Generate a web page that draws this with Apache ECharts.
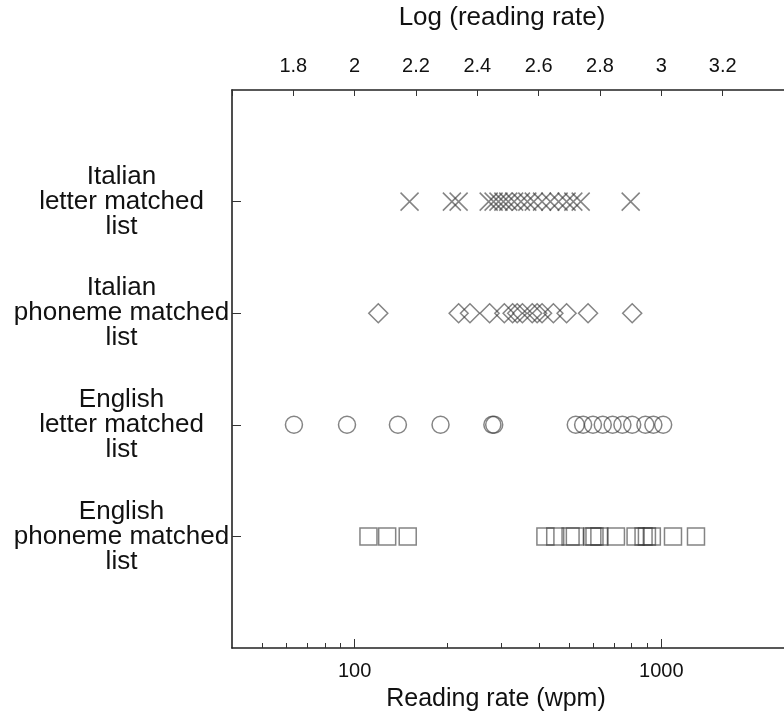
<!DOCTYPE html>
<html>
<head>
<meta charset="utf-8">
<script src="https://cdn.jsdelivr.net/npm/echarts@6/dist/echarts.min.js"></script>
<style>html,body{margin:0;padding:0;background:#fff;}#c{width:784px;height:718px;}</style>
</head>
<body>
<div id="c"></div>
<script>
// Row labels (top to bottom)
var categories = [
  'Italian\nletter matched\nlist',
  'Italian\nphoneme matched\nlist',
  'English\nletter matched\nlist',
  'English\nphoneme matched\nlist'
];
// Log10(reading rate) values
var italianLetter = [2.179, 2.317, 2.339, 2.437, 2.453, 2.469, 2.485, 2.501, 2.520, 2.542, 2.563, 2.584, 2.611, 2.638, 2.665, 2.691, 2.713, 2.737, 2.900];
var italianPhoneme = [2.077, 2.339, 2.376, 2.440, 2.488, 2.515, 2.530, 2.547, 2.579, 2.595, 2.611, 2.648, 2.691, 2.761, 2.905];
var englishLetter = [1.802, 1.975, 2.141, 2.280, 2.449, 2.455, 2.721, 2.745, 2.777, 2.809, 2.841, 2.873, 2.905, 2.948, 2.974, 3.006];
var englishPhoneme = [2.045, 2.106, 2.173, 2.622, 2.654, 2.704, 2.718, 2.775, 2.782, 2.798, 2.852, 2.916, 2.942, 2.953, 2.969, 3.038, 3.113];
// Axis ticks
var topTicks = [1.6, 1.8, 2, 2.2, 2.4, 2.6, 2.8, 3, 3.2, 3.4];
var bottomMajor = [100, 1000];
var bottomMinor = [50, 60, 70, 80, 90, 200, 300, 400, 500, 600, 700, 800, 900];

var logMin = 1.6, logMax = 3.4;
var stroke = 'rgba(50,50,50,0.75)';
var tickColor = '#333';
var font = 'Liberation Sans, Arial, Helvetica, sans-serif';

function toPts(arr, row) { return arr.map(function (v) { return [v, row]; }); }
function ser(name, arr, row, symbol, size) {
  return {
    name: name, type: 'scatter', xAxisIndex: 0, yAxisIndex: 0,
    symbol: symbol, symbolSize: size,
    data: toPts(arr, row),
    itemStyle: { color: 'rgba(255,255,255,0)', borderColor: stroke, borderWidth: 1.5 },
    emphasis: { disabled: true },
    silent: true
  };
}

var chart = echarts.init(document.getElementById('c'), null, { renderer: 'canvas' });
chart.setOption({
  backgroundColor: '#fff',
  animation: false,
  grid: { left: 232, top: 88, width: 561.6, height: 560, containLabel: false },
  xAxis: [
    {
      type: 'value', position: 'bottom', min: logMin, max: logMax,
      name: 'Reading rate (wpm)', nameLocation: 'middle', nameGap: 39,
      nameTextStyle: { fontSize: 25, color: '#111', fontFamily: font, padding: [0, 24, 0, 0] },
      axisLine: { show: true, onZero: false, lineStyle: { color: '#222', width: 1.6 } },
      axisTick: { show: true, inside: true, length: 9, customValues: bottomMajor.map(Math.log10), lineStyle: { color: tickColor } },
      axisLabel: { show: true, customValues: bottomMajor.map(Math.log10), margin: 13, fontSize: 20, color: '#111', fontFamily: font,
        formatter: function (v) { return String(Math.round(Math.pow(10, v))); } },
      splitLine: { show: false }
    },
    {
      type: 'value', position: 'top', min: logMin, max: logMax, interval: 0.2,
      name: 'Log (reading rate)', nameLocation: 'middle', nameGap: 59,
      nameTextStyle: { fontSize: 26, color: '#111', fontFamily: font, padding: [0, 12, 0, 0] },
      axisLine: { show: true, onZero: false, lineStyle: { color: '#222', width: 1.6 } },
      axisTick: { show: true, inside: true, length: 6, customValues: topTicks, lineStyle: { color: tickColor } },
      axisLabel: { show: true, customValues: topTicks.slice(1, topTicks.length - 1), margin: 14, fontSize: 20, color: '#111', fontFamily: font },
      splitLine: { show: false }
    },
    {
      type: 'value', position: 'bottom', min: logMin, max: logMax,
      axisLine: { show: false, onZero: false },
      axisTick: { show: true, inside: true, length: 5, customValues: bottomMinor.map(Math.log10), lineStyle: { color: tickColor } },
      axisLabel: { show: false },
      splitLine: { show: false }
    }
  ],
  yAxis: {
    type: 'value', min: 0, max: 5, interval: 1, inverse: true,
    axisLine: { show: true, onZero: false, lineStyle: { color: '#222', width: 1.6 } },
    axisTick: { show: true, inside: true, length: 9, customValues: [1, 2, 3, 4], lineStyle: { color: tickColor } },
    axisLabel: {
      show: true, customValues: [1, 2, 3, 4], align: 'center', margin: 110.5,
      fontSize: 26, lineHeight: 25, color: '#111', fontFamily: font,
      formatter: function (v) { return categories[Math.round(v) - 1] || ''; }
    },
    splitLine: { show: false }
  },
  series: [
    ser('Italian letter', italianLetter, 1, 'path://M0,0L10,10M0,10L10,0', 18),
    ser('Italian phoneme', italianPhoneme, 2, 'diamond', 19),
    ser('English letter', englishLetter, 3, 'circle', 17),
    ser('English phoneme', englishPhoneme, 4, 'rect', 17)
  ]
});
</script>
</body>
</html>
